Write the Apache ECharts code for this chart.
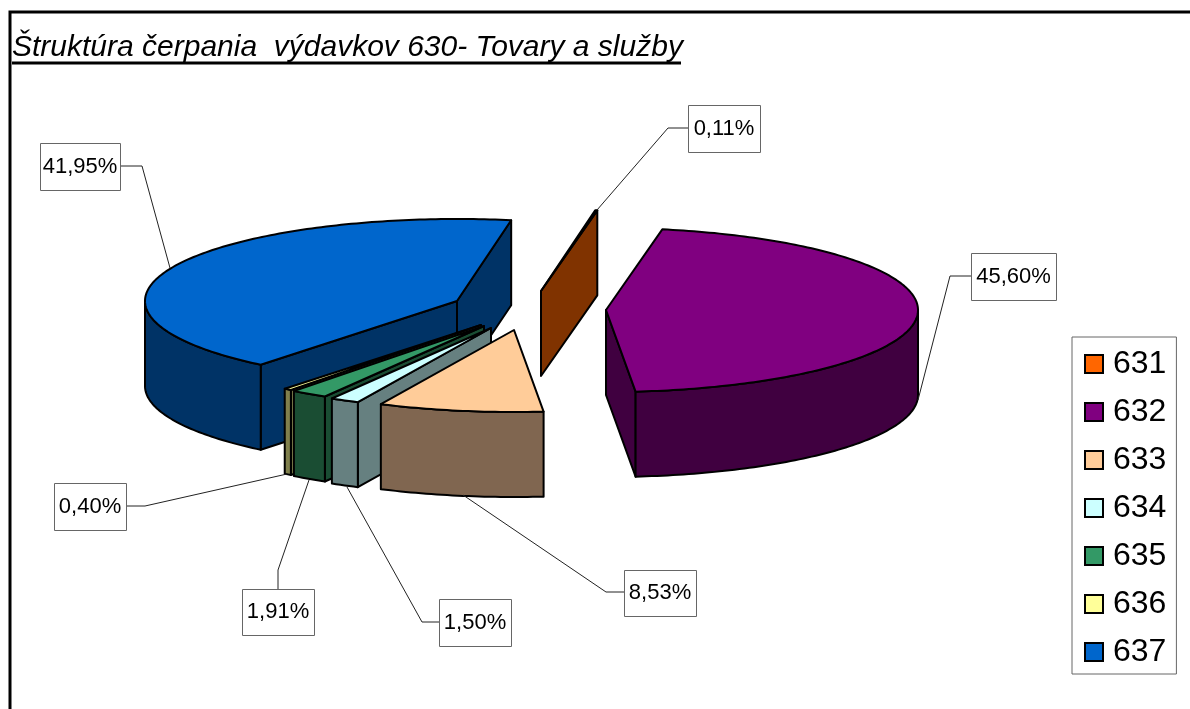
<!DOCTYPE html>
<html>
<head>
<meta charset="utf-8">
<title>630</title>
<style>
  html, body { margin: 0; padding: 0; background: #fff; }
  #chart { width: 1190px; height: 709px; }
</style>
<script src="https://cdn.jsdelivr.net/npm/echarts@6/dist/echarts.min.js"></script>
</head>
<body>
<div id="chart"></div>
<script>
  // data
  const categories = ['631', '632', '633', '634', '635', '636', '637']
  const shares = [0.11, 45.60, 8.53, 1.50, 1.91, 0.40, 41.95]
  const labelTexts = ['0,11%', '45,60%', '8,53%', '1,50%', '1,91%', '0,40%', '41,95%']

  // looks
  const topColors = ['#ff6600', '#800080', '#ffcc99', '#ccffff', '#339966', '#ffff99', '#0066cc']
  const sideColors = ['#803300', '#400040', '#806650', '#668080', '#1a4d33', '#80804d', '#003366']

  // layout of the tilted pie: exploded apex of each slice
  const apexes = [[541, 291], [606, 310], [514, 330], [491, 328], [484, 326], [481, 325], [457, 301]]
  const radiusX = 312
  const radiusY = 82
  const depth = 85
  const startAngle = -80
  const paintOrder = [6, 5, 4, 3, 2, 0, 1]

  // label box [x, y, w, h] and leader line for each slice
  const labelBoxes = [
    [688, 105, 72, 47], [971, 253, 85, 47], [624, 570, 72, 46], [439, 599, 72, 47],
    [242, 589, 72, 46], [54, 483, 72, 47], [40, 143, 80, 47]
  ]
  const leaders = [
    [[688, 128], [668, 128], [597, 210]],
    [[971, 276], [950, 276], [918, 400]],
    [[624, 592], [606, 592], [463, 495]],
    [[439, 622], [422, 622], [347, 487]],
    [[278, 589], [278, 570], [309, 480]],
    [[126, 506], [145, 506], [287, 474]],
    [[120, 166], [142, 166], [170, 268]]
  ]

  const total = shares.reduce((a, b) => a + b, 0)
  let sweep = startAngle
  const ranges = shares.map(v => {
    const from = sweep
    sweep += v / total * 360
    return [from, sweep]
  })

  function rimPoint(apex, deg, drop) {
    const rad = deg * Math.PI / 180
    return [apex[0] + radiusX * Math.cos(rad), apex[1] + radiusY * Math.sin(rad) + drop]
  }

  function arcPoints(apex, from, to, drop) {
    const pts = []
    const steps = Math.max(2, Math.ceil(Math.abs(to - from)))
    for (let i = 0; i <= steps; i++) {
      pts.push(rimPoint(apex, from + (to - from) * i / steps, drop))
    }
    return pts
  }

  function poly(points, fill) {
    return {
      type: 'polygon',
      shape: {points: points},
      style: {fill: fill, stroke: '#000', lineWidth: 2, lineJoin: 'round'}
    }
  }

  function radialFace(apex, deg, fill) {
    return poly([apex, rimPoint(apex, deg, 0), rimPoint(apex, deg, depth), [apex[0], apex[1] + depth]], fill)
  }

  function sliceItem(idx) {
    return function () {
      const apex = apexes[idx]
      const from = ranges[idx][0]
      const to = ranges[idx][1]
      const side = sideColors[idx]
      const children = []
      // side walls turned towards the viewer
      if (Math.cos(from * Math.PI / 180) < 0) children.push(radialFace(apex, from, side))
      if (Math.cos(to * Math.PI / 180) > 0) children.push(radialFace(apex, to, side))
      const rimFrom = Math.max(from, 0)
      const rimTo = Math.min(to, 180)
      if (rimTo > rimFrom) {
        const front = arcPoints(apex, rimFrom, rimTo, 0)
        const back = arcPoints(apex, rimTo, rimFrom, depth)
        children.push(poly(front.concat(back), side))
      }
      children.push(poly([apex].concat(arcPoints(apex, from, to, 0)), topColors[idx]))

      // leader and value box
      const box = labelBoxes[idx]
      children.push({
        type: 'polyline',
        shape: {points: leaders[idx]},
        style: {fill: null, stroke: '#222', lineWidth: 1}
      })
      children.push({
        type: 'rect',
        shape: {x: box[0] + 0.5, y: box[1] + 0.5, width: box[2], height: box[3]},
        style: {fill: '#fff', stroke: '#666', lineWidth: 1}
      })
      children.push({
        type: 'text',
        style: {
          x: box[0] + box[2] / 2,
          y: box[1] + box[3] / 2,
          text: labelTexts[idx],
          align: 'center',
          verticalAlign: 'middle',
          fill: '#000',
          font: '22px "Liberation Sans"'
        }
      })
      return {type: 'group', children: children}
    }
  }

  const chart = echarts.init(document.getElementById('chart'), null, {renderer: 'canvas'})
  chart.setOption({
    animation: false,
    backgroundColor: '#fff',
    title: {
      text: 'Štruktúra čerpania  výdavkov 630- Tovary a služby',
      left: 12,
      top: 33,
      padding: 0,
      textStyle: {
        fontFamily: '"Liberation Sans"',
        fontStyle: 'italic',
        fontWeight: 'normal',
        fontSize: 30,
        color: '#000'
      }
    },
    legend: {
      data: categories,
      orient: 'vertical',
      left: 1072,
      top: 337,
      padding: [10, 10, 5, 12],
      itemGap: 14,
      itemWidth: 18,
      itemHeight: 18,
      icon: 'rect',
      borderColor: '#666',
      borderWidth: 1,
      selectedMode: false,
      itemStyle: {borderColor: '#000', borderWidth: 2},
      textStyle: {
        fontFamily: '"Liberation Sans"',
        fontSize: 32,
        lineHeight: 32,
        color: '#000',
        padding: [2, 0, 0, 5]
      }
    },
    graphic: [
      {
        type: 'polyline',
        shape: {points: [[10, 709], [10, 12], [1190, 12]]},
        style: {fill: null, stroke: '#000', lineWidth: 3}
      },
      {
        type: 'line',
        shape: {x1: 12, y1: 63, x2: 681, y2: 63},
        style: {stroke: '#000', lineWidth: 3}
      }
    ],
    series: categories.map((name, idx) => ({
      type: 'custom',
      name: name,
      coordinateSystem: 'none',
      z: 2 + paintOrder.indexOf(idx),
      silent: true,
      itemStyle: {color: topColors[idx]},
      data: [shares[idx]],
      renderItem: sliceItem(idx)
    }))
  })
</script>
</body>
</html>
